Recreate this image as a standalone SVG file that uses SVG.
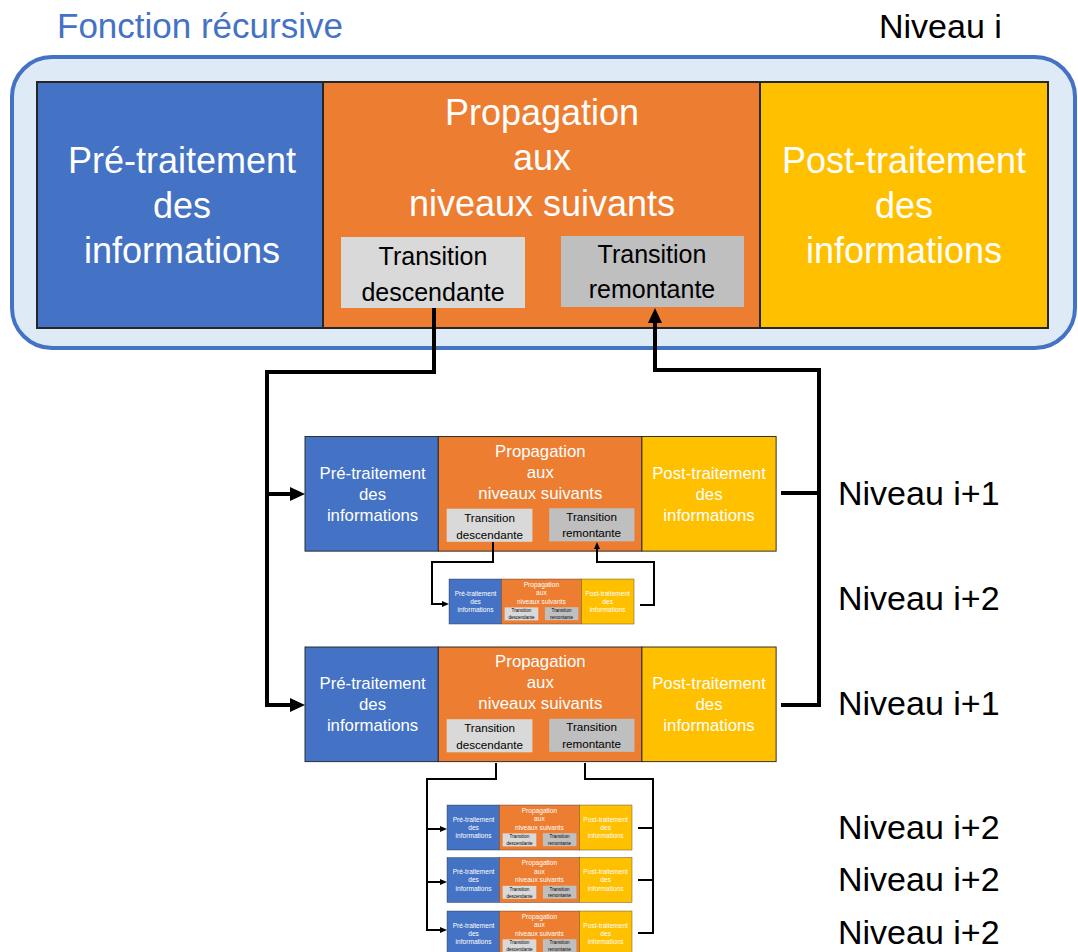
<svg xmlns="http://www.w3.org/2000/svg" width="1078" height="952" viewBox="0 0 1078 952">
<style>
.b{fill:#4472C4}.o{fill:#ED7D31}.y{fill:#FFC000}.td{fill:#D9D9D9}.tr{fill:#BFBFBF}
.s{stroke:#262626;stroke-width:2}
.w{fill:#fff;font-family:"Liberation Sans",Arial,sans-serif;font-size:36px;text-anchor:middle}
.k{fill:#000;font-family:"Liberation Sans",Arial,sans-serif;font-size:25px;text-anchor:middle}
.lbl{fill:#000;font-family:"Liberation Sans",Arial,sans-serif;font-size:34px}
.thick{fill:none;stroke:#000;stroke-width:4}
.thin{fill:none;stroke:#000;stroke-width:2}
</style>
<defs>
<marker id="ah" markerUnits="userSpaceOnUse" markerWidth="15" markerHeight="14" refX="0" refY="7" orient="auto"><path d="M0,0 L15,7 L0,14 z" fill="#000"/></marker>
<marker id="as" markerUnits="userSpaceOnUse" markerWidth="7" markerHeight="6" refX="0" refY="3" orient="auto"><path d="M0,0 L7,3 L0,6 z" fill="#000"/></marker>
</defs>
<rect x="0" y="0" width="1078" height="952" fill="#fff"/>
<text x="57" y="38" font-family="Liberation Sans, Arial, sans-serif" font-size="35" fill="#4472C4">Fonction récursive</text>
<text class="lbl" x="879" y="38">Niveau i</text>
<g id="outer"><rect x="12" y="57" width="1063" height="291" rx="40" ry="40" fill="#DEEBF7" stroke="#4472C4" stroke-width="4"/></g>

<g id="niveau-i" transform="translate(37,82)">
<rect class="b s" x="0" y="0" width="286" height="246"/><rect class="o s" x="286" y="0" width="437" height="246"/><rect class="y s" x="723" y="0" width="288" height="246"/>
<rect class="td" x="304" y="155" width="184" height="71"/><rect class="tr" x="524" y="154" width="183" height="71"/>
<text class="w" x="145" y="91">Pré-traitement</text><text class="w" x="145" y="136">des</text><text class="w" x="145" y="181">informations</text>
<text class="w" x="505" y="43">Propagation</text><text class="w" x="505" y="88">aux</text><text class="w" x="505" y="134">niveaux suivants</text>
<text class="w" x="867" y="91">Post-traitement</text><text class="w" x="867" y="136">des</text><text class="w" x="867" y="181">informations</text>
<text class="k" x="396" y="183">Transition</text><text class="k" x="396" y="219">descendante</text>
<text class="k" x="615" y="181">Transition</text><text class="k" x="615" y="216">remontante</text>
</g>

<g id="niveau-i1-a" transform="translate(305,436.5) scale(0.466)">
<rect class="b s" x="0" y="0" width="286" height="246"/><rect class="o s" x="286" y="0" width="437" height="246"/><rect class="y s" x="723" y="0" width="288" height="246"/>
<rect class="td" x="304" y="155" width="184" height="71"/><rect class="tr" x="524" y="154" width="183" height="71"/>
<text class="w" x="145" y="91">Pré-traitement</text><text class="w" x="145" y="136">des</text><text class="w" x="145" y="181">informations</text>
<text class="w" x="505" y="43">Propagation</text><text class="w" x="505" y="88">aux</text><text class="w" x="505" y="134">niveaux suivants</text>
<text class="w" x="867" y="91">Post-traitement</text><text class="w" x="867" y="136">des</text><text class="w" x="867" y="181">informations</text>
<text class="k" x="396" y="183">Transition</text><text class="k" x="396" y="219">descendante</text>
<text class="k" x="615" y="181">Transition</text><text class="k" x="615" y="216">remontante</text>
</g>

<g id="niveau-i1-b" transform="translate(305,647) scale(0.466)">
<rect class="b s" x="0" y="0" width="286" height="246"/><rect class="o s" x="286" y="0" width="437" height="246"/><rect class="y s" x="723" y="0" width="288" height="246"/>
<rect class="td" x="304" y="155" width="184" height="71"/><rect class="tr" x="524" y="154" width="183" height="71"/>
<text class="w" x="145" y="91">Pré-traitement</text><text class="w" x="145" y="136">des</text><text class="w" x="145" y="181">informations</text>
<text class="w" x="505" y="43">Propagation</text><text class="w" x="505" y="88">aux</text><text class="w" x="505" y="134">niveaux suivants</text>
<text class="w" x="867" y="91">Post-traitement</text><text class="w" x="867" y="136">des</text><text class="w" x="867" y="181">informations</text>
<text class="k" x="396" y="183">Transition</text><text class="k" x="396" y="219">descendante</text>
<text class="k" x="615" y="181">Transition</text><text class="k" x="615" y="216">remontante</text>
</g>

<g id="niveau-i2-a" transform="translate(449,579) scale(0.183)">
<rect class="b s" x="0" y="0" width="286" height="246"/><rect class="o s" x="286" y="0" width="437" height="246"/><rect class="y s" x="723" y="0" width="288" height="246"/>
<rect class="td" x="304" y="155" width="184" height="71"/><rect class="tr" x="524" y="154" width="183" height="71"/>
<text class="w" x="145" y="91">Pré-traitement</text><text class="w" x="145" y="136">des</text><text class="w" x="145" y="181">informations</text>
<text class="w" x="505" y="43">Propagation</text><text class="w" x="505" y="88">aux</text><text class="w" x="505" y="134">niveaux suivants</text>
<text class="w" x="867" y="91">Post-traitement</text><text class="w" x="867" y="136">des</text><text class="w" x="867" y="181">informations</text>
<text class="k" x="396" y="183">Transition</text><text class="k" x="396" y="219">descendante</text>
<text class="k" x="615" y="181">Transition</text><text class="k" x="615" y="216">remontante</text>
</g>

<g id="niveau-i2-b" transform="translate(447,805) scale(0.183)">
<rect class="b s" x="0" y="0" width="286" height="246"/><rect class="o s" x="286" y="0" width="437" height="246"/><rect class="y s" x="723" y="0" width="288" height="246"/>
<rect class="td" x="304" y="155" width="184" height="71"/><rect class="tr" x="524" y="154" width="183" height="71"/>
<text class="w" x="145" y="91">Pré-traitement</text><text class="w" x="145" y="136">des</text><text class="w" x="145" y="181">informations</text>
<text class="w" x="505" y="43">Propagation</text><text class="w" x="505" y="88">aux</text><text class="w" x="505" y="134">niveaux suivants</text>
<text class="w" x="867" y="91">Post-traitement</text><text class="w" x="867" y="136">des</text><text class="w" x="867" y="181">informations</text>
<text class="k" x="396" y="183">Transition</text><text class="k" x="396" y="219">descendante</text>
<text class="k" x="615" y="181">Transition</text><text class="k" x="615" y="216">remontante</text>
</g>

<g id="niveau-i2-c" transform="translate(447,857.5) scale(0.183)">
<rect class="b s" x="0" y="0" width="286" height="246"/><rect class="o s" x="286" y="0" width="437" height="246"/><rect class="y s" x="723" y="0" width="288" height="246"/>
<rect class="td" x="304" y="155" width="184" height="71"/><rect class="tr" x="524" y="154" width="183" height="71"/>
<text class="w" x="145" y="91">Pré-traitement</text><text class="w" x="145" y="136">des</text><text class="w" x="145" y="181">informations</text>
<text class="w" x="505" y="43">Propagation</text><text class="w" x="505" y="88">aux</text><text class="w" x="505" y="134">niveaux suivants</text>
<text class="w" x="867" y="91">Post-traitement</text><text class="w" x="867" y="136">des</text><text class="w" x="867" y="181">informations</text>
<text class="k" x="396" y="183">Transition</text><text class="k" x="396" y="219">descendante</text>
<text class="k" x="615" y="181">Transition</text><text class="k" x="615" y="216">remontante</text>
</g>

<g id="niveau-i2-d" transform="translate(447,911) scale(0.183)">
<rect class="b s" x="0" y="0" width="286" height="246"/><rect class="o s" x="286" y="0" width="437" height="246"/><rect class="y s" x="723" y="0" width="288" height="246"/>
<rect class="td" x="304" y="155" width="184" height="71"/><rect class="tr" x="524" y="154" width="183" height="71"/>
<text class="w" x="145" y="91">Pré-traitement</text><text class="w" x="145" y="136">des</text><text class="w" x="145" y="181">informations</text>
<text class="w" x="505" y="43">Propagation</text><text class="w" x="505" y="88">aux</text><text class="w" x="505" y="134">niveaux suivants</text>
<text class="w" x="867" y="91">Post-traitement</text><text class="w" x="867" y="136">des</text><text class="w" x="867" y="181">informations</text>
<text class="k" x="396" y="183">Transition</text><text class="k" x="396" y="219">descendante</text>
<text class="k" x="615" y="181">Transition</text><text class="k" x="615" y="216">remontante</text>
</g>

<g id="connectors">
<path class="thick" d="M434,308 V372 H267 V705 H290" marker-end="url(#ah)"/>
<path class="thick" d="M267,494 H290" marker-end="url(#ah)"/>
<path class="thick" d="M781,705 H819 V370 H655 V323" marker-end="url(#ah)"/>
<path class="thick" d="M781,493 H819"/>
<path class="thin" d="M493,542 V562 H432 V604 H442" marker-end="url(#as)"/>
<path class="thin" d="M640,605 H654 V562 H597 V549" marker-end="url(#as)"/>
<path class="thin" d="M496,763 V779 H427 V930 H440" marker-end="url(#as)"/>
<path class="thin" d="M427,829 H440" marker-end="url(#as)"/>
<path class="thin" d="M427,882 H440" marker-end="url(#as)"/>
<path class="thin" d="M585,763 V779 H653 V933 H638"/>
<path class="thin" d="M638,828 H653"/>
<path class="thin" d="M638,880 H653"/>
</g>

<g id="labels">
<text class="lbl" x="838" y="505">Niveau i+1</text>
<text class="lbl" x="838" y="610">Niveau i+2</text>
<text class="lbl" x="838" y="715">Niveau i+1</text>
<text class="lbl" x="838" y="839">Niveau i+2</text>
<text class="lbl" x="838" y="891">Niveau i+2</text>
<text class="lbl" x="838" y="944">Niveau i+2</text>
</g>
</svg>
